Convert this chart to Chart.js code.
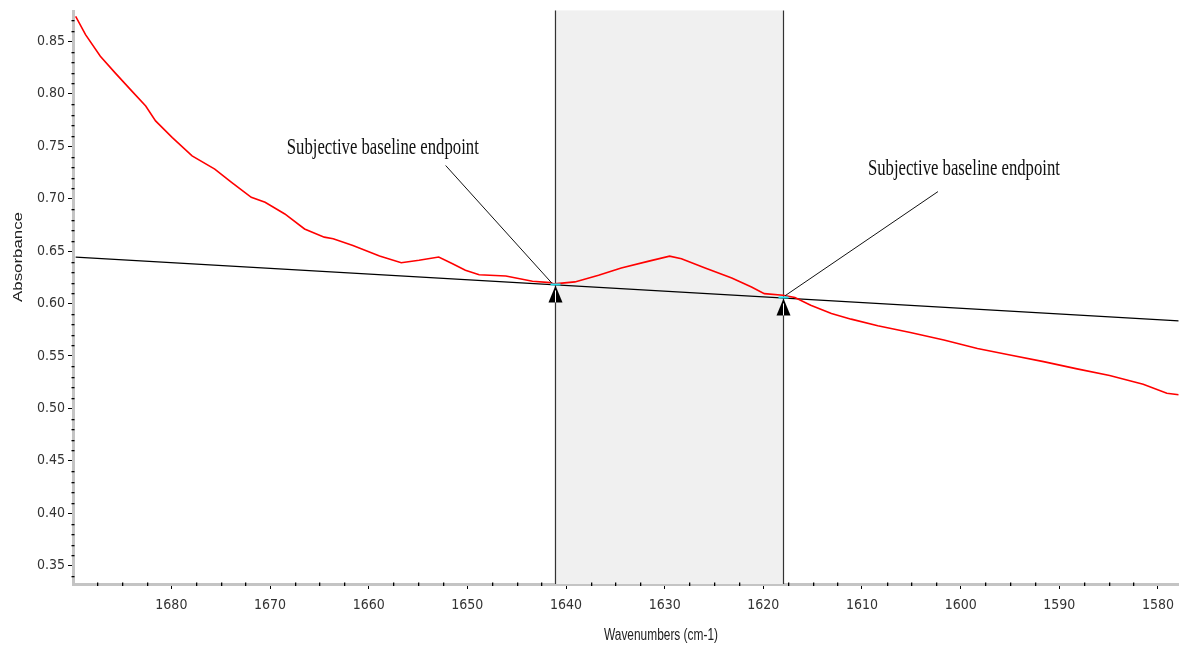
<!DOCTYPE html>
<html><head><meta charset="utf-8">
<script src="https://cdn.jsdelivr.net/npm/chart.js@4.4.1/dist/chart.umd.min.js"></script>
<style>html,body{margin:0;padding:0;background:#fff;overflow:hidden}#wrap{width:1182px;height:648px;position:relative}</style>
</head><body><div id="wrap"><canvas id="c" width="1182" height="648"></canvas></div>
<script>
// ---- data ----
const wavenumbers = [1689.7, 1688.7, 1687.2, 1685.7, 1684.0, 1682.6, 1681.6, 1679.9, 1677.9, 1675.6, 1673.9, 1671.9, 1670.5, 1668.5, 1666.5, 1664.5, 1663.6, 1661.6, 1658.9, 1656.7, 1654.9, 1652.9, 1651.5, 1650.2, 1648.8, 1646.1, 1643.4, 1641.6, 1641.2, 1639.1, 1636.7, 1634.4, 1631.7, 1629.5, 1628.3, 1625.9, 1623.2, 1621.2, 1619.9, 1618.0, 1616.8, 1615.2, 1613.1, 1611.1, 1608.4, 1605.1, 1601.7, 1598.3, 1595.0, 1591.6, 1588.2, 1584.9, 1581.5, 1579.1, 1577.9];
const absorbance = [0.8737, 0.8563, 0.8358, 0.8199, 0.8025, 0.7883, 0.7741, 0.7582, 0.7408, 0.7281, 0.7155, 0.7012, 0.6965, 0.6854, 0.6711, 0.6633, 0.6617, 0.6554, 0.6452, 0.6389, 0.6412, 0.6443, 0.6379, 0.6317, 0.6275, 0.6262, 0.6212, 0.6199, 0.6187, 0.6206, 0.6269, 0.6338, 0.6402, 0.6452, 0.6427, 0.6338, 0.6243, 0.6158, 0.6094, 0.6079, 0.6057, 0.5984, 0.5905, 0.5851, 0.5788, 0.5724, 0.5652, 0.5572, 0.5510, 0.5446, 0.5377, 0.5313, 0.5231, 0.5145, 0.5130];
const baselineX = [1689.7, 1577.9];
const baselineY = [0.6443, 0.5835];
const regionBounds = [1641.15, 1618.0];
const endpointX = [1641.15, 1618.0];
const endpointY = [0.6182, 0.6058];
const calloutLabel = 'Subjective baseline endpoint';
const calloutTextX = [1668.3, 1609.4];
const calloutTextY = [0.7423, 0.7224];
const calloutFromX = [1652.2, 1602.3];
const calloutFromY = [0.7316, 0.7067];
const calloutToX = [1641.45, 1617.8];
const calloutToY = [0.6196, 0.6074];
const xRange = [1577.9, 1689.97];
const yRange = [0.3326, 0.8785];
const xStep = 10, xMinorStep = 2.5;
const yStep = 0.05, yMinorStep = 0.01;
const xTitle = 'Wavenumbers (cm-1)';
const yTitle = 'Absorbance';

const tickFont = { family: '"Liberation Sans Narrow", "DejaVu Sans Condensed", "Arial Narrow", sans-serif', size: 14 };

const overlay = {
  id: 'overlay',
  beforeDatasetsDraw(chart) {
    const { ctx, chartArea: a, scales: { x } } = chart;
    const x0 = x.getPixelForValue(regionBounds[0]), x1 = x.getPixelForValue(regionBounds[1]);
    ctx.save();
    ctx.fillStyle = '#f0f0f0';
    ctx.fillRect(x0, a.top - 1, x1 - x0, a.bottom - a.top + 1);
    ctx.strokeStyle = '#333';
    ctx.lineWidth = 1.2;
    [x0, x1].forEach(px => {
      ctx.beginPath();
      ctx.moveTo(Math.round(px) + 0.5, a.top - 1);
      ctx.lineTo(Math.round(px) + 0.5, a.bottom);
      ctx.stroke();
    });
    ctx.restore();
  },
  afterDatasetsDraw(chart) {
    const { ctx, scales: { x, y } } = chart;
    ctx.save();
    // callout lines
    ctx.strokeStyle = '#111';
    ctx.lineWidth = 1;
    for (let i = 0; i < calloutFromX.length; i++) {
      ctx.beginPath();
      ctx.moveTo(x.getPixelForValue(calloutFromX[i]), y.getPixelForValue(calloutFromY[i]));
      ctx.lineTo(x.getPixelForValue(calloutToX[i]), y.getPixelForValue(calloutToY[i]));
      ctx.stroke();
    }
    // callout texts
    ctx.fillStyle = '#111';
    ctx.font = '24px "Liberation Serif", "Times New Roman", serif';
    ctx.textAlign = 'left';
    ctx.textBaseline = 'alphabetic';
    const w = ctx.measureText(calloutLabel).width;
    for (let i = 0; i < calloutTextX.length; i++) {
      ctx.save();
      ctx.translate(x.getPixelForValue(calloutTextX[i]), y.getPixelForValue(calloutTextY[i]));
      ctx.scale(192 / w, 1);
      ctx.fillText(calloutLabel, 0, 0);
      ctx.restore();
    }
    // endpoint markers
    for (let i = 0; i < endpointX.length; i++) {
      const px = Math.round(x.getPixelForValue(endpointX[i])) + 0.5;
      const py = y.getPixelForValue(endpointY[i]);
      ctx.strokeStyle = '#22e0ee';
      ctx.lineWidth = 2;
      ctx.beginPath(); ctx.moveTo(px - 5, py); ctx.lineTo(px + 5, py); ctx.stroke();
      ctx.fillStyle = '#000';
      ctx.beginPath();
      ctx.moveTo(px, py + 1);
      ctx.lineTo(px + 7, py + 18);
      ctx.lineTo(px - 7, py + 18);
      ctx.closePath();
      ctx.fill();
      ctx.strokeStyle = '#fff';
      ctx.lineWidth = 1;
      ctx.beginPath(); ctx.moveTo(px, py + 6); ctx.lineTo(px, py + 18); ctx.stroke();
    }
    ctx.restore();
  },
  afterDraw(chart) {
    const { ctx, chartArea: a, scales: { x, y } } = chart;
    ctx.save();
    ctx.fillStyle = '#000';
    // minor ticks y
    const yi0 = Math.ceil(yRange[0] / yMinorStep), yi1 = Math.floor(yRange[1] / yMinorStep);
    for (let i = yi0; i <= yi1; i++) {
      if (i % 5 === 0) continue;
      const py = Math.round(y.getPixelForValue(i * yMinorStep));
      ctx.fillRect(a.left - 1.5, py, 3, 1.3);
    }
    // minor ticks x
    const xi0 = Math.ceil(xRange[0] / xMinorStep), xi1 = Math.floor(xRange[1] / xMinorStep);
    for (let i = xi0; i <= xi1; i++) {
      if (i % 4 === 0) continue;
      const px = Math.round(x.getPixelForValue(i * xMinorStep));
      ctx.fillRect(px, a.bottom - 1.5, 1.3, 3.5);
    }
    // axis titles
    ctx.fillStyle = '#222';
    ctx.textAlign = 'center';
    ctx.textBaseline = 'middle';
    ctx.font = '13px "Liberation Sans", Arial, sans-serif';
    let w = ctx.measureText(yTitle).width;
    ctx.save();
    ctx.translate(18, 257);
    ctx.rotate(-Math.PI / 2);
    ctx.scale(90 / w, 1);
    ctx.fillText(yTitle, 0, 0);
    ctx.restore();
    ctx.font = '12px "Liberation Sans", Arial, sans-serif';
    w = ctx.measureText(xTitle).width;
    ctx.save();
    ctx.translate(661, 636);
    ctx.scale(114 / w, 1.3);
    ctx.fillText(xTitle, 0, 0);
    ctx.restore();
    ctx.restore();
  }
};

new Chart(document.getElementById('c'), {
  type: 'scatter',
  data: {
    datasets: [
      { label: 'spectrum', data: wavenumbers.map((v, i) => ({ x: v, y: absorbance[i] })), showLine: true, borderColor: '#ff0000', borderWidth: 1.6, pointRadius: 0, tension: 0 },
      { label: 'baseline', data: baselineX.map((v, i) => ({ x: v, y: baselineY[i] })), showLine: true, borderColor: '#000', borderWidth: 1.2, pointRadius: 0 }
    ]
  },
  options: {
    responsive: false,
    animation: false,
    devicePixelRatio: 1,
    layout: { padding: { top: 9, right: 0, bottom: 0, left: 0 } },
    plugins: { legend: { display: false }, tooltip: { enabled: false } },
    scales: {
      x: {
        type: 'linear', position: 'bottom', reverse: true,
        min: xRange[0], max: xRange[1],
        ticks: { stepSize: xStep, includeBounds: false, autoSkip: false, maxRotation: 0, font: tickFont, color: '#333', padding: 8, callback: v => String(v) },
        grid: { drawOnChartArea: false, drawTicks: true, tickLength: 5, tickColor: '#000', tickWidth: 1 },
        border: { display: true, color: '#c4c4c4', width: 3 },
        afterFit: s => { s.height = 64; }
      },
      y: {
        type: 'linear', position: 'left',
        min: yRange[0], max: yRange[1],
        ticks: { stepSize: yStep, includeBounds: false, font: tickFont, color: '#333', padding: 3, callback: v => Number(v).toFixed(2) },
        grid: { drawOnChartArea: false, drawTicks: true, tickLength: 5, tickColor: '#000', tickWidth: 1 },
        border: { display: true, color: '#c4c4c4', width: 3 },
        afterFit: s => { s.width = 73; }
      }
    }
  },
  plugins: [overlay]
});
</script>
</body></html>
